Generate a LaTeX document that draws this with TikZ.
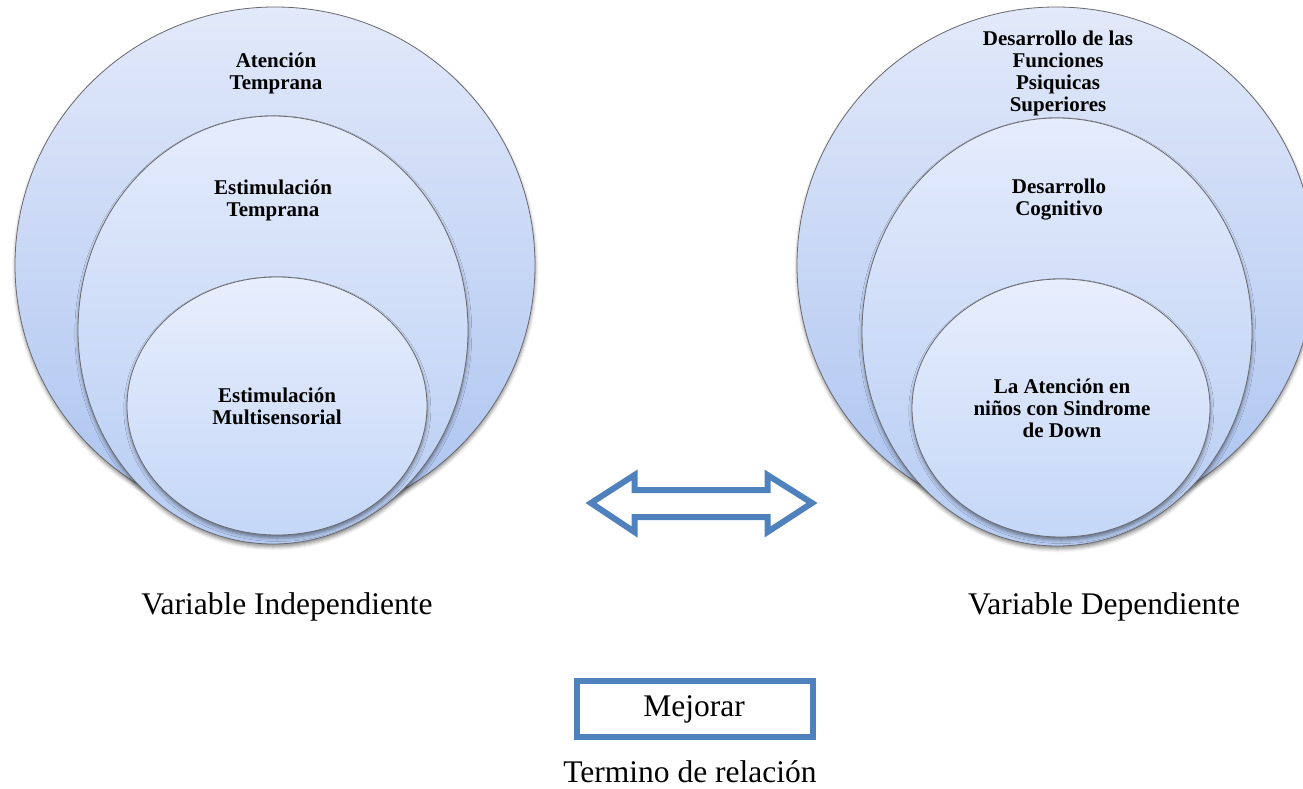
\documentclass[tikz,border=0pt]{standalone}
\usepackage{fontspec}
\setmainfont{Liberation Serif}
\usetikzlibrary{shapes.geometric,shadows.blur}
\definecolor{arrowblue}{RGB}{79,129,189}
\definecolor{ringline}{RGB}{105,105,110}
\tikzset{
  ring/.style={ellipse, draw=ringline, line width=0.8pt, inner sep=0pt, outer sep=0pt,
    blur shadow={shadow xshift=0.3pt, shadow yshift=-3pt, shadow blur radius=3.5pt, shadow opacity=45}},
  ringA/.style={ring, top color={rgb,255:red,226;green,233;blue,250}, bottom color={rgb,255:red,172;green,196;blue,240}},
  ringB/.style={ring, top color={rgb,255:red,229;green,236;blue,252}, bottom color={rgb,255:red,182;green,204;blue,243}},
  ringC/.style={ring, top color={rgb,255:red,232;green,238;blue,253}, bottom color={rgb,255:red,196;green,215;blue,247}},
  ringtext/.style={align=center, inner sep=0pt, font=\fontsize{21}{22}\selectfont\bfseries},
  bigtext/.style={align=center, inner sep=0pt, font=\fontsize{31.5}{36}\selectfont},
}
\begin{document}
\begin{tikzpicture}[x=1pt,y=-1pt]
\useasboundingbox (0,0) rectangle (1303,789);
\clip (0,0) rectangle (1303,789);
% left group
\node[ringA, minimum width=520pt, minimum height=516pt] (LA) at (275,265) {};
\node[ringB, minimum width=390pt, minimum height=428pt] (LB) at (273,330) {};
\node[ringC, minimum width=300pt, minimum height=258pt] (LC) at (277,406) {};
\node[ringtext] (tLA) at (276,73) {Atención\\Temprana};
\node[ringtext] (tLB) at (273,200) {Estimulación\\Temprana};
\node[ringtext] (tLC) at (277,406) {Estimulación\\Multisensorial};
% right group
\node[ringA, minimum width=518pt, minimum height=516pt] (RA) at (1056,265) {};
\node[ringB, minimum width=390pt, minimum height=428pt] (RB) at (1057,332) {};
\node[ringC, minimum width=298pt, minimum height=258pt] (RC) at (1061,408) {};
\node[ringtext] (tRA) at (1058,73) {Desarrollo de las\\Funciones\\Psiquicas\\Superiores};
\node[ringtext] (tRB) at (1059,200) {Desarrollo\\Cognitivo};
\node[ringtext] (tRC) at (1062,408) {La Atención en\\niños con Sindrome\\de Down};
% double arrow
\draw[arrowblue, line width=6pt, line join=miter, fill=white]
  (591,503) -- (634.5,475) -- (634.5,490) -- (767.5,490) -- (767.5,475) -- (812,503)
  -- (767.5,532) -- (767.5,517) -- (634.5,517) -- (634.5,532) -- cycle;
% labels
\node[bigtext] (vi) at (287,607) {Variable Independiente};
\node[bigtext] (vd) at (1104,607) {Variable Dependiente};
\draw[arrowblue, line width=6pt] (577,681) rectangle (813,737);
\node[bigtext] (mej) at (694,709) {Mejorar};
\node[bigtext] (term) at (690,772) {Termino de relación};
\end{tikzpicture}
\end{document}
